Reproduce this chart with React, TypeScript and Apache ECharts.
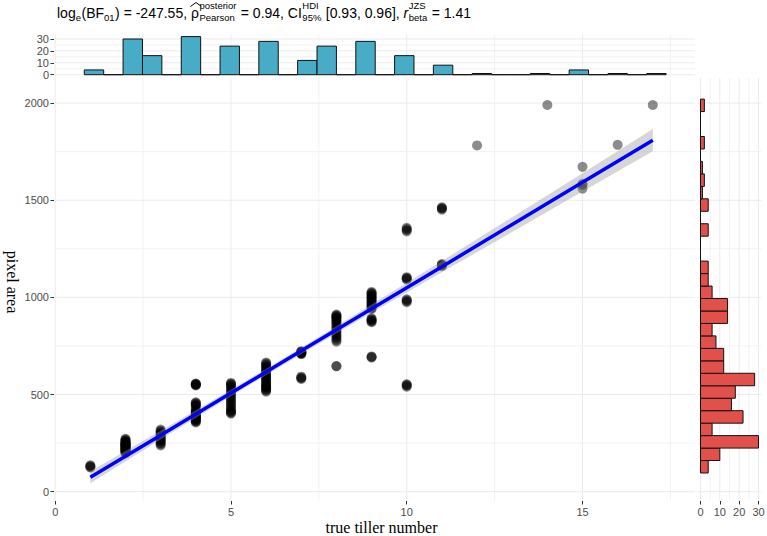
import React, { useEffect, useRef } from "react";
import * as echarts from "echarts";

// ---------- data ----------
const tillerNumbers = [1, 2, 3, 4, 5, 6, 7, 8, 9, 10, 11, 12, 14, 15, 16, 17];
const areasT1 = [125, 128, 132, 136];
const areasT2 = [198, 202, 205, 208, 211, 214, 216, 218, 220, 222, 226, 228, 230, 232, 234, 236, 238, 240, 242, 244, 246, 248, 250, 252, 255, 258, 261, 264, 268, 272];
const areasT3 = [238, 244, 250, 256, 262, 266, 270, 276, 282, 287, 292, 297, 303, 308, 314, 320];
const areasT4 = [356, 360, 364, 367, 370, 373, 376, 379, 382, 385, 388, 391, 394, 398, 402, 406, 410, 414, 420, 424, 440, 444, 448, 452, 456, 460, 547, 549, 551, 553, 555, 557];
const areasT5 = [402, 406, 410, 414, 420, 428, 436, 444, 452, 460, 468, 476, 484, 492, 500, 508, 516, 524, 532, 540, 548, 552, 556, 560];
const areasT6 = [515, 520, 525, 530, 535, 538, 541, 544, 550, 556, 562, 568, 574, 580, 586, 592, 598, 604, 612, 618, 624, 630, 636, 642, 648, 654, 660, 665];
const areasT7 = [580, 584, 588, 592, 708, 710, 712, 714, 716, 718, 720, 723];
const areasT8 = [645, 647, 772, 780, 788, 796, 804, 812, 820, 828, 836, 844, 852, 860, 868, 874, 880, 886, 892, 896, 900, 904, 908, 912];
const areasT9 = [690, 693, 696, 872, 876, 880, 884, 888, 892, 940, 945, 950, 955, 960, 965, 970, 975, 980, 985, 990, 995, 1000, 1005, 1010, 1015, 1020, 1024, 1028];
const areasT10 = [540, 545, 550, 553, 975, 980, 985, 990, 1092, 1096, 1100, 1104, 1340, 1346, 1352, 1358];
const areasT11 = [1160, 1164, 1168, 1172, 1452, 1456, 1460, 1464];
const areasT12 = [1782];
const areasT14 = [1990];
const areasT15 = [1560, 1578, 1585, 1672];
const areasT16 = [1785];
const areasT17 = [1990];
const pixelAreas = [areasT1, areasT2, areasT3, areasT4, areasT5, areasT6, areasT7, areasT8, areasT9, areasT10, areasT11, areasT12, areasT14, areasT15, areasT16, areasT17];

// marginal histogram of tiller number (30 bins)
const topBinStart = 0.8276;
const topBinWidth = 0.5517;
const topBinCounts = [4, 0, 30, 16, 0, 32, 0, 24, 0, 28, 0, 12, 24, 0, 28, 0, 16, 0, 8, 0, 1, 0, 0, 1, 0, 4, 0, 1, 0, 1];

// marginal histogram of pixel area (30 bins)
const rightBinStart = 96.2;
const rightBinWidth = 64.14;
const rightBinCounts = [4, 10, 30, 6, 22, 16, 18, 28, 12, 12, 8, 6, 14, 14, 6, 4, 4, 0, 0, 4, 0, 4, 1, 2, 1, 0, 2, 0, 0, 2];

// fitted regression line and its confidence half-width
const fitX = [1, 3, 5, 7, 9, 11, 13, 15, 17];
const fitY = [74, 291, 508, 725, 942, 1158, 1375, 1592, 1809];
const fitHalfWidth = [31, 23, 17, 16, 21, 29, 38, 47, 57];

// axis breaks
const mainXTicks = [0, 5, 10, 15];
const mainXMinor = [2.5, 7.5, 12.5, 17.5];
const mainYTicks = [0, 500, 1000, 1500, 2000];
const mainYMinor = [250, 750, 1250, 1750];
const topYTicks = [0, 10, 20, 30];
const topYMinor = [5, 15, 25];
const rightXTicks = [0, 10, 20, 30];
const rightXMinor = [5, 15, 25];

const SANS = '"Liberation Sans", Arial, sans-serif';
const SERIF = '"Liberation Serif", "Times New Roman", serif';

type Piece = { text?: string; italic?: boolean; hat?: boolean; sup?: string; sub?: string };
const titlePieces: Piece[] = [
  { text: "log" }, { sub: "e" }, { text: "(BF" }, { sub: "01" }, { text: ") = -247.55, " },
  { text: "ρ", hat: true }, { sup: "posterior", sub: "Pearson" }, { text: " = 0.94, CI" },
  { sup: "HDI", sub: "95%" }, { text: " [0.93, 0.96], " }, { text: "r", italic: true },
  { sup: "JZS", sub: "beta" }, { text: " = 1.41" },
];

function buildTitle(): any[] {
  const ctx = document.createElement("canvas").getContext("2d")!;
  const big = 14, small = 9.5;
  const w = (t: string, size: number, italic?: boolean) => {
    ctx.font = `${italic ? "italic " : ""}${size}px ${SANS}`;
    return ctx.measureText(t).width;
  };
  const els: any[] = [];
  let cx = 57;
  const yMain = 13, ySup = 5, ySub = 17.5;
  const txt = (t: string, x: number, y: number, size: number, italic?: boolean) => ({
    type: "text", x, y, silent: true,
    style: { text: t, fontSize: size, fontFamily: SANS, fontStyle: italic ? "italic" : "normal", fill: "#000", align: "left", verticalAlign: "middle" },
  });
  for (const p of titlePieces) {
    if (p.text !== undefined) {
      const tw = w(p.text, big, p.italic);
      els.push(txt(p.text, cx, yMain, big, p.italic));
      if (p.hat) {
        els.push({ type: "polyline", silent: true, shape: { points: [[cx - 0.5, 6.5], [cx + tw / 2 + 1, 2.5], [cx + tw + 2.5, 6.5]] }, style: { stroke: "#000", lineWidth: 1, fill: null } });
      }
      cx += tw;
    } else if (p.sup !== undefined) {
      const ws = w(p.sup, small), wb = w(p.sub || "", small);
      els.push(txt(p.sup, cx + 0.5, ySup, small));
      els.push(txt(p.sub || "", cx + 0.5, ySub, small));
      cx += Math.max(ws, wb) + 1;
    } else if (p.sub !== undefined) {
      els.push(txt(p.sub, cx, ySub, small));
      cx += w(p.sub, small) + 0.5;
    }
  }
  return els;
}

function gridLines(xi: number, yi: number, values: number[], vertical: boolean, color: string, width: number) {
  return {
    type: "custom", xAxisIndex: xi, yAxisIndex: yi, z: 0, silent: true,
    data: values.map((v) => (vertical ? [v, 0] : [0, v])),
    renderItem: (params: any, api: any) => {
      const cs = params.coordSys;
      const p = api.coord([api.value(0), api.value(1)]);
      const shape = vertical
        ? { x1: p[0], y1: cs.y, x2: p[0], y2: cs.y + cs.height }
        : { x1: cs.x, y1: p[1], x2: cs.x + cs.width, y2: p[1] };
      return { type: "line", shape, style: { stroke: color, lineWidth: width } };
    },
  };
}

function axis(gridIndex: number, min: number, max: number, ticks: number[] | null) {
  const show = !!ticks;
  return {
    type: "value", gridIndex, min, max,
    axisLine: { show: false, onZero: false },
    splitLine: { show: false },
    axisTick: show ? { show: true, length: 3.5, customValues: ticks, lineStyle: { color: "#333", width: 1 } } : { show: false },
    axisLabel: show
      ? { show: true, customValues: ticks, color: "#4d4d4d", fontSize: 11, fontFamily: SANS, margin: 5, formatter: (v: number) => String(v) }
      : { show: false },
  };
}

export default function App() {
  const ref = useRef<HTMLDivElement>(null);
  useEffect(() => {
    document.body.style.margin = "0";
    const chart = echarts.init(ref.current!, null, { renderer: "svg" });
    const major = "#ebebeb";
    const minor = "#f2f2f2";
    const scatterData: number[][] = [];
    tillerNumbers.forEach((t, i) => pixelAreas[i].forEach((a) => scatterData.push([t, a])));

    const option: any = {
      animation: false,
      backgroundColor: "#fff",
      grid: [
        { left: 54, right: 72, top: 78, bottom: 35, outerBoundsMode: "none" },
        { left: 54, right: 72, top: 34.7, bottom: 459.4, outerBoundsMode: "none" },
        { left: 697.6, right: 5.6, top: 78, bottom: 35, outerBoundsMode: "none" },
      ],
      xAxis: [
        axis(0, -0.034, 18.2, mainXTicks),
        axis(1, -0.034, 18.2, null),
        axis(2, -1.5, 31.5, rightXTicks),
      ],
      yAxis: [
        axis(0, -47.9, 2129, mainYTicks),
        axis(1, -1.6, 33.6, topYTicks),
        axis(2, -47.9, 2129, null),
      ],
      series: [
        gridLines(0, 0, mainXMinor, true, minor, 1),
        gridLines(0, 0, mainXTicks, true, major, 1),
        gridLines(0, 0, mainYMinor, false, minor, 1),
        gridLines(0, 0, mainYTicks, false, major, 1),
        gridLines(1, 1, mainXMinor, true, minor, 1),
        gridLines(1, 1, mainXTicks, true, major, 1),
        gridLines(1, 1, topYMinor, false, minor, 1),
        gridLines(1, 1, topYTicks, false, major, 1),
        gridLines(2, 2, rightXMinor, true, minor, 1),
        gridLines(2, 2, rightXTicks, true, major, 1),
        gridLines(2, 2, mainYMinor, false, minor, 1),
        gridLines(2, 2, mainYTicks, false, major, 1),
        {
          type: "custom", xAxisIndex: 1, yAxisIndex: 1, z: 1, silent: true,
          data: topBinCounts.map((c, i) => [topBinStart + i * topBinWidth, topBinStart + (i + 1) * topBinWidth, c]),
          renderItem: (_p: any, api: any) => {
            const p0 = api.coord([api.value(0), 0]);
            const p1 = api.coord([api.value(1), api.value(2)]);
            return { type: "rect", shape: { x: p0[0], y: p1[1], width: p1[0] - p0[0], height: p0[1] - p1[1] }, style: { fill: "#48ACC6", stroke: "#111", lineWidth: 1 } };
          },
        },
        {
          type: "custom", xAxisIndex: 2, yAxisIndex: 2, z: 1, silent: true,
          data: rightBinCounts.map((c, i) => [rightBinStart + i * rightBinWidth, rightBinStart + (i + 1) * rightBinWidth, c]),
          renderItem: (_p: any, api: any) => {
            const p0 = api.coord([0, api.value(0)]);
            const p1 = api.coord([api.value(2), api.value(1)]);
            return { type: "rect", shape: { x: p0[0], y: p1[1], width: p1[0] - p0[0], height: p0[1] - p1[1] }, style: { fill: "#E2504C", stroke: "#111", lineWidth: 1 } };
          },
        },
        {
          type: "scatter", xAxisIndex: 0, yAxisIndex: 0, z: 2, silent: true,
          symbol: "circle", symbolSize: 10,
          itemStyle: { color: "#000", opacity: 0.45 },
          data: scatterData,
        },
        {
          type: "custom", xAxisIndex: 0, yAxisIndex: 0, z: 3, silent: true,
          data: [[fitX[0], fitY[0]]],
          renderItem: (_p: any, api: any) => {
            const upper = fitX.map((x, i) => api.coord([x, fitY[i] + fitHalfWidth[i]]));
            const lower = fitX.map((x, i) => api.coord([x, fitY[i] - fitHalfWidth[i]])).reverse();
            return { type: "polygon", shape: { points: upper.concat(lower) }, style: { fill: "rgba(153,153,153,0.4)" } };
          },
        },
        {
          type: "line", xAxisIndex: 0, yAxisIndex: 0, z: 4, silent: true,
          symbol: "none", showSymbol: false,
          lineStyle: { color: "#0000ff", width: 3.5 },
          data: fitX.map((x, i) => [x, fitY[i]]),
        },
      ],
      graphic: [
        ...buildTitle(),
        { type: "text", x: 12, y: 282, rotation: -Math.PI / 2, silent: true, style: { text: "pixel area", fontSize: 16, fontFamily: SERIF, fill: "#000", align: "center", verticalAlign: "middle" } },
        { type: "text", x: 381.5, y: 527, silent: true, style: { text: "true tiller number", fontSize: 16, fontFamily: SERIF, fill: "#000", align: "center", verticalAlign: "middle" } },
      ],
    };
    chart.setOption(option);
    return () => chart.dispose();
  }, []);
  return <div ref={ref} style={{ width: 767, height: 536 }} />;
}
